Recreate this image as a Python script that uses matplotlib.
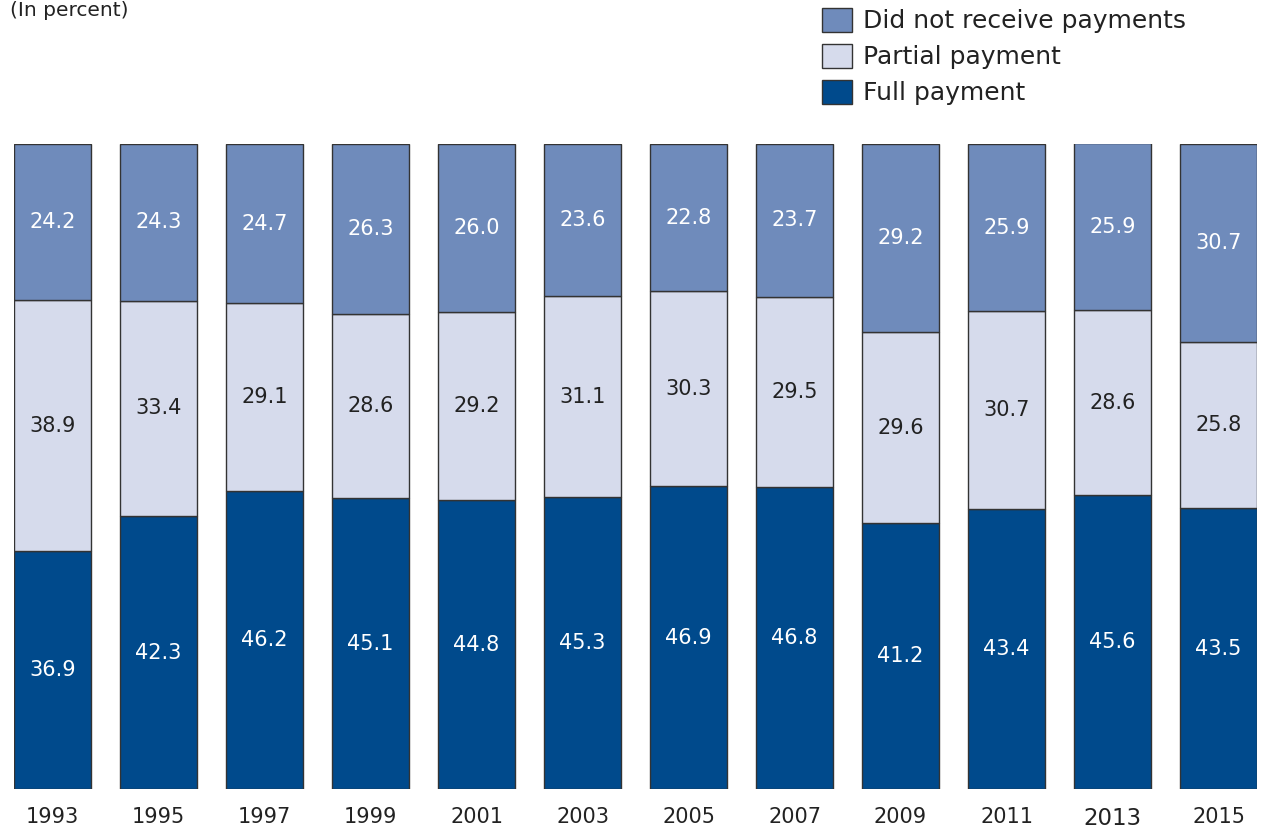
import matplotlib
matplotlib.use("Agg")
import matplotlib.pyplot as plt
from matplotlib.patches import Patch
import numpy as np

years = ["1993", "1995", "1997", "1999", "2001", "2003", "2005", "2007", "2009", "2011", "2013", "2015"]
full_payment = [36.9, 42.3, 46.2, 45.1, 44.8, 45.3, 46.9, 46.8, 41.2, 43.4, 45.6, 43.5]
partial_payment = [38.9, 33.4, 29.1, 28.6, 29.2, 31.1, 30.3, 29.5, 29.6, 30.7, 28.6, 25.8]
no_payment = [24.2, 24.3, 24.7, 26.3, 26.0, 23.6, 22.8, 23.7, 29.2, 25.9, 25.9, 30.7]

c_full = "#004A8C"
c_part = "#D6DBEC"
c_none = "#6F8BBB"
edge = "#333333"
txt = "#222222"

plt.rcParams['font.family'] = ['DejaVu Sans']

fig = plt.figure(figsize=(12.62, 8.31), dpi=100)
W, H = 1262, 831
ax = fig.add_axes([14 / W, 1 - 789 / H, (1257 - 14) / W, (789 - 144) / H])

x = np.arange(len(years))
width = 77 / 106
full = np.array(full_payment)
part = np.array(partial_payment)
none = np.array(no_payment)

kw = dict(width=width, edgecolor=edge, linewidth=1.0)
ax.bar(x, full, color=c_full, **kw)
ax.bar(x, part, bottom=full, color=c_part, **kw)
ax.bar(x, none, bottom=full + part, color=c_none, **kw)

fs = 15
for i in range(len(years)):
    ax.text(x[i], full[i] / 2, f"{full[i]:.1f}", ha='center', va='center', color='white', fontsize=fs)
    ax.text(x[i], full[i] + part[i] / 2, f"{part[i]:.1f}", ha='center', va='center', color=txt, fontsize=fs)
    ax.text(x[i], full[i] + part[i] + none[i] / 2, f"{none[i]:.1f}", ha='center', va='center', color='white', fontsize=fs)

ax.set_xlim(-width / 2, len(years) - 1 + width / 2)
ax.set_ylim(0, 100)
ax.set_xticks(x)
ax.set_xticklabels(years, fontsize=15, color=txt)
for lbl in ax.get_xticklabels():
    if lbl.get_text() == "2013":
        lbl.set_fontsize(16.5)
ax.tick_params(axis='x', length=0, pad=13)
ax.set_yticks([])
for s in ax.spines.values():
    s.set_visible(False)

fig.text(10 / W, 1 - 16 / H, "(In percent)", fontsize=14.5, color=txt, va='baseline', ha='left')

handles = [Patch(facecolor=c_none, edgecolor=edge, label="Did not receive payments"),
           Patch(facecolor=c_part, edgecolor=edge, label="Partial payment"),
           Patch(facecolor=c_full, edgecolor=edge, label="Full payment")]
leg = fig.legend(handles=handles, loc='upper left', bbox_to_anchor=(819 / W, 1 - 5 / H),
                 frameon=False, fontsize=18, handlelength=1.2, handleheight=1.1,
                 handletextpad=0.45, labelspacing=0.42, borderpad=0.1, borderaxespad=0)
for t in leg.get_texts():
    t.set_color(txt)

fig.savefig("out.png", dpi=100)
